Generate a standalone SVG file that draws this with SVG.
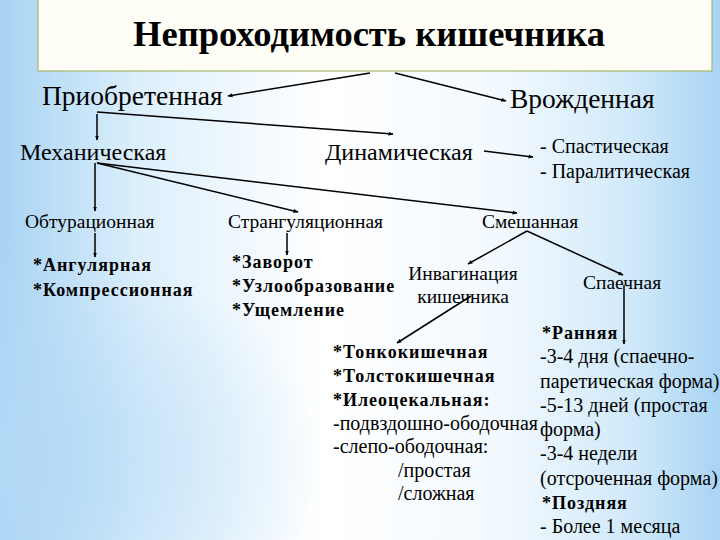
<svg xmlns="http://www.w3.org/2000/svg" width="720" height="540" viewBox="0 0 720 540">
<defs>
<linearGradient id="bg" x1="0" y1="0" x2="1" y2="0">
<stop offset="0" stop-color="#a8d3f4"/>
<stop offset="0.2" stop-color="#def0fc"/>
<stop offset="0.45" stop-color="#ffffff"/>
<stop offset="0.7" stop-color="#f2f9fe"/>
<stop offset="0.88" stop-color="#d0e9fa"/>
<stop offset="1" stop-color="#a9d4f4"/>
</linearGradient>
<radialGradient id="bl" cx="0" cy="0.85" r="0.45" gradientTransform="translate(0,0.85) scale(1,0.9) translate(0,-0.85)">
<stop offset="0" stop-color="#b3d9f6" stop-opacity="0.9"/>
<stop offset="1" stop-color="#b3d9f6" stop-opacity="0"/>
</radialGradient>
<marker id="ah" viewBox="0 0 10 10" refX="9" refY="5" markerWidth="5" markerHeight="5" orient="auto" markerUnits="userSpaceOnUse">
<path d="M0,1 L10,5 L0,9 z" fill="#000"/>
</marker>
<style>
.t{font-size:36px;font-weight:bold}
.l0{font-size:27.5px}
.l1{font-size:24px}
.l2{font-size:19.5px}
.b{font-size:18px;font-weight:bold;letter-spacing:1px}
.r{font-size:20px}
.c{stroke:#000;stroke-width:1.5;fill:none;marker-end:url(#ah)}
</style>
</defs>
<rect x="0" y="0" width="720" height="540" fill="url(#bg)"/>
<rect x="0" y="0" width="720" height="540" fill="url(#bl)"/>
<g font-family="'Liberation Serif', 'DejaVu Serif', serif" fill="#000">
<g id="title">
<rect x="38" y="-1" width="674" height="72" fill="#fefef6" stroke="#a3b86a" stroke-width="1.2"/>
<text class="t" x="133" y="46" textLength="472" lengthAdjust="spacingAndGlyphs">Непроходимость кишечника</text>
</g>
<g id="acquired"><text class="l0" x="42" y="105">Приобретенная</text></g>
<g id="congenital"><text class="l0" x="510" y="108">Врожденная</text></g>
<g id="mechanical"><text class="l1" x="20" y="160">Механическая</text></g>
<g id="dynamic"><text class="l1" x="325" y="160">Динамическая</text></g>
<g id="dyn-types">
<text class="r" x="540" y="153">- Спастическая</text>
<text class="r" x="540" y="178">- Паралитическая</text>
</g>
<g id="obturation"><text class="l2" x="25" y="228">Обтурационная</text></g>
<g id="strangulation"><text class="l2" x="228" y="228">Странгуляционная</text></g>
<g id="mixed"><text class="l2" x="482" y="228">Смешанная</text></g>
<g id="obt-types">
<text class="b" x="33" y="271">*Ангулярная</text>
<text class="b" x="33" y="296">*Компрессионная</text>
</g>
<g id="str-types">
<text class="b" x="232" y="268">*Заворот</text>
<text class="b" x="232" y="292">*Узлообразование</text>
<text class="b" x="232" y="316">*Ущемление</text>
</g>
<g id="invagination">
<text class="l2" x="463" y="280" text-anchor="middle">Инвагинация</text>
<text class="l2" x="463" y="303" text-anchor="middle">кишечника</text>
</g>
<g id="adhesive"><text class="l2" x="583" y="289">Спаечная</text></g>
<g id="inv-types">
<text class="b" x="333" y="358">*Тонкокишечная</text>
<text class="b" x="333" y="382">*Толстокишечная</text>
<text class="b" x="333" y="406">*Илеоцекальная:</text>
<text class="r" x="333" y="430">-подвздошно-ободочная</text>
<text class="r" x="333" y="453">-слепо-ободочная:</text>
<text class="r" x="398" y="477">/простая</text>
<text class="r" x="398" y="500">/сложная</text>
</g>
<g id="adh-types">
<text class="b" x="542" y="339">*Ранняя</text>
<text class="r" x="540" y="363">-3-4 дня (спаечно-</text>
<text class="r" x="540" y="388">паретическая форма)</text>
<text class="r" x="540" y="412">-5-13 дней (простая</text>
<text class="r" x="540" y="436">форма)</text>
<text class="r" x="540" y="460">-3-4 недели</text>
<text class="r" x="540" y="485">(отсроченная форма)</text>
<text class="b" x="542" y="509">*Поздняя</text>
<text class="r" x="540" y="533">- Более 1 месяца</text>
</g>
</g>
<g id="connectors">
<line class="c" x1="370" y1="73" x2="228" y2="96"/>
<line class="c" x1="395" y1="73" x2="506" y2="101"/>
<line class="c" x1="97" y1="114" x2="97" y2="140"/>
<line class="c" x1="97" y1="112" x2="393" y2="134"/>
<line class="c" x1="484" y1="151" x2="533" y2="157"/>
<line class="c" x1="95" y1="163" x2="95" y2="211"/>
<line class="c" x1="97" y1="163" x2="298" y2="212"/>
<line class="c" x1="97" y1="163" x2="517" y2="213"/>
<line class="c" x1="95" y1="233" x2="95" y2="257"/>
<line class="c" x1="287" y1="233" x2="287" y2="255"/>
<line class="c" x1="527" y1="231" x2="468" y2="264"/>
<line class="c" x1="527" y1="231" x2="623" y2="275"/>
<line class="c" x1="624" y1="285" x2="624" y2="344"/>
<line class="c" x1="471" y1="296" x2="397" y2="343"/>
</g>
</svg>
